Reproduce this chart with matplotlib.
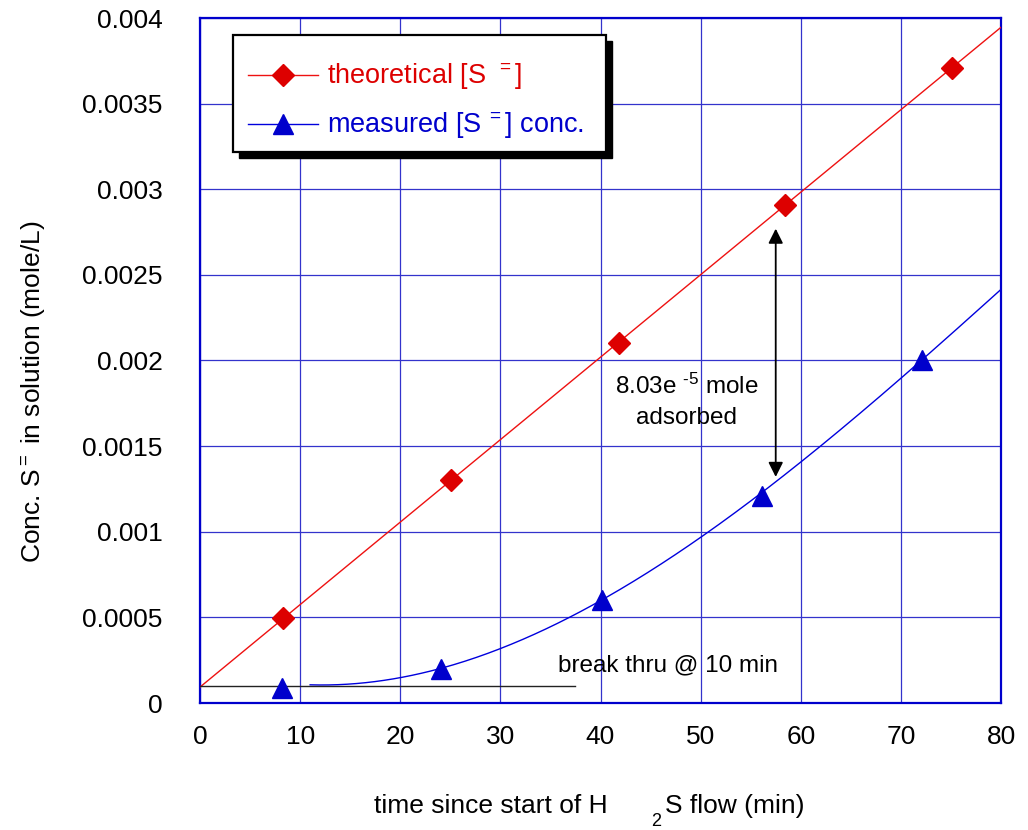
import numpy as np
import matplotlib
matplotlib.use("Agg")
import matplotlib.pyplot as plt
from matplotlib.lines import Line2D
from matplotlib.patches import Rectangle

plt.rcParams['font.family'] = ['Liberation Sans', 'DejaVu Sans']
plt.rcParams['mathtext.fontset'] = 'custom'
plt.rcParams['mathtext.rm'] = 'Liberation Sans'
plt.rcParams['mathtext.it'] = 'Liberation Sans:italic'
plt.rcParams['mathtext.bf'] = 'Liberation Sans:bold'
plt.rcParams['mathtext.default'] = 'regular'

# ---- data ----
theo_t = [8.3, 25.1, 41.8, 58.4, 75.1]
theo_c = [0.000496, 0.0013, 0.0021, 0.00291, 0.00371]
meas_t = [8.2, 24.1, 40.1, 56.1, 72.1]
meas_c = [0.00009, 0.0002, 0.0006, 0.00121, 0.002]
curve_t = [10, 15, 20, 30, 37.3, 40, 50, 56, 60, 62.1, 70, 80]
curve_c = [0.0001, 0.00012, 0.000152, 0.000321, 0.000509, 0.000587,
           0.000972, 0.00123, 0.0014, 0.0015, 0.00191, 0.00241]
break_c = 0.0001
break_line_end = 37.5
arrow_t = 57.5
arrow_top = 0.00277
arrow_bot = 0.00132
x_ticks = [0, 10, 20, 30, 40, 50, 60, 70, 80]
y_ticks = [0, 0.0005, 0.001, 0.0015, 0.002, 0.0025, 0.003, 0.0035, 0.004]
y_tick_labels = ['0', '0.0005', '0.001', '0.0015', '0.002', '0.0025', '0.003', '0.0035', '0.004']

W, H = 1028, 830
fig = plt.figure(figsize=(W / 100, H / 100), dpi=100)
ax = fig.add_axes([200 / W, 1 - 703 / H, (1001 - 200) / W, (703 - 18) / H])

red = '#dd0000'
blue = '#0000cc'

# theoretical linear fit
p1 = np.polyfit(theo_t, theo_c, 1)
tl = np.array([0, 80])
ax.plot(tl, np.polyval(p1, tl), color='#ee1111', lw=1.0, zorder=3)

# measured smooth curve
p3 = np.polyfit(curve_t, curve_c, 3)
tc = np.linspace(11, curve_t[-1], 300)
ax.plot(tc, np.polyval(p3, tc), color='#0000dd', lw=1.0, zorder=3)

# break-through line
ax.plot([0, break_line_end], [break_c, break_c], color='#222222', lw=1.0, zorder=3)

ax.plot(theo_t, theo_c, linestyle='none', marker='D', markersize=11,
        color=red, markeredgecolor=red, zorder=4)
ax.plot(meas_t, meas_c, linestyle='none', marker='^', markersize=14,
        color=blue, markeredgecolor=blue, zorder=4)

ax.set_xlim(0, 80)
ax.set_ylim(0, 0.004)
ax.set_xticks(x_ticks)
ax.set_yticks(y_ticks)
ax.set_yticklabels(y_tick_labels)
ax.tick_params(axis='both', length=0, labelsize=19, colors='black')
ax.tick_params(axis='x', pad=16)
ax.tick_params(axis='y', pad=27)
ax.grid(True, color='#3333cc', lw=0.9)
ax.set_axisbelow(True)
for s in ax.spines.values():
    s.set_color('#0000cc')
    s.set_linewidth(1.6)

# double arrow
ax.annotate('', xy=(arrow_t, arrow_top), xytext=(arrow_t, arrow_bot),
            arrowprops=dict(arrowstyle='<|-|>', color='black', lw=1.3,
                            mutation_scale=22, shrinkA=0, shrinkB=0), zorder=5)

ax.text(48.6, 0.00176, r"8.03e $^{\text{-5}}$ mole" + "\nadsorbed", ha='center', va='center',
        fontsize=17.5, linespacing=1.5, zorder=5)
ax.text(35.8, 0.00022, "break thru @ 10 min", ha='left', va='center', fontsize=17.5, zorder=5)

# legend box with solid shadow
def px_rect(x0, y0, x1, y1, **kw):
    return Rectangle((x0 / W, 1 - y1 / H), (x1 - x0) / W, (y1 - y0) / H,
                     transform=fig.transFigure, **kw)

fig.patches.append(px_rect(239, 41, 612, 158, facecolor='black', edgecolor='black', zorder=20))
fig.patches.append(px_rect(233, 35, 606, 152, facecolor='white', edgecolor='black', lw=1.6, zorder=21))

handles = [
    Line2D([], [], color='#ee1111', lw=1.0, marker='D', markersize=11, markerfacecolor=red, markeredgecolor=red),
    Line2D([], [], color='#0000dd', lw=1.0, marker='^', markersize=14, markerfacecolor=blue, markeredgecolor=blue),
]
labels = [r"theoretical [S$^{\ \ =}$]", r"measured [S$^{\ =}$] conc."]
leg = fig.legend(handles, labels, loc='upper left',
                 bbox_to_anchor=(248 / W, 1 - 62 / H), bbox_transform=fig.transFigure,
                 fontsize=19.5, frameon=False, handlelength=2.6, handletextpad=0.3,
                 borderpad=0, labelspacing=0.68, borderaxespad=0)
leg.get_texts()[0].set_color('#dd0000')
leg.get_texts()[1].set_color('#0000cc')
leg.set_zorder(22)

# axis labels
fig.text(33 / W, 1 - 392 / H, r"Conc. S$^{=}$ in solution (mole/L)", rotation=90,
         ha='center', va='center', fontsize=19)
fig.text(374 / W, 1 - 813 / H, "time since start of H", ha='left', va='baseline', fontsize=19)
fig.text(651 / W, 1 - 830 / H, "2", ha='left', va='bottom', fontsize=13)
fig.text(665 / W, 1 - 813 / H, "S flow (min)", ha='left', va='baseline', fontsize=19)

fig.savefig('out.png', dpi=100)
